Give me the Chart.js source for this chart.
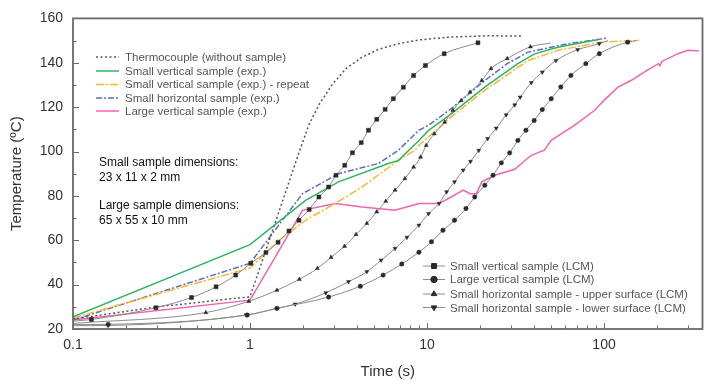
<!DOCTYPE html>
<html>
<head>
<meta charset="utf-8">
<script src="https://cdn.jsdelivr.net/npm/chart.js@4.4.1/dist/chart.umd.min.js"></script>
<style>
  body { margin: 0; background: #fff; }
  #wrap { position: relative; width: 707px; height: 381px; font-family: "Liberation Sans", Arial, sans-serif; }
  #chart { position: absolute; left: 0; top: 0; }
  .lab { position: absolute; font-size: 11.5px; color: #555; white-space: nowrap; line-height: 12px; }
  .note { position: absolute; font-size: 12px; color: #111; white-space: nowrap; line-height: 15px; }
</style>
</head>
<body>
<div id="wrap">
  <canvas id="chart" width="707" height="381"></canvas>

  <div class="lab" style="left:125px; top:51px">Thermocouple (without sample)</div>
  <div class="lab" style="left:125px; top:65px">Small vertical sample (exp.)</div>
  <div class="lab" style="left:125px; top:78px">Small vertical sample (exp.) - repeat</div>
  <div class="lab" style="left:125px; top:92px">Small horizontal sample (exp.)</div>
  <div class="lab" style="left:125px; top:105px">Large vertical sample (exp.)</div>

  <div class="note" style="left:99px; top:155px">Small sample dimensions:<br>23 x 11 x 2 mm</div>
  <div class="note" style="left:99px; top:198px">Large sample dimensions:<br>65 x 55 x 10 mm</div>

  <div class="lab" style="left:450px; top:260px">Small vertical sample (LCM)</div>
  <div class="lab" style="left:450px; top:273px">Large vertical sample (LCM)</div>
  <div class="lab" style="left:450px; top:288px">Small horizontal sample - upper surface (LCM)</div>
  <div class="lab" style="left:450px; top:302px">Small horizontal sample - lower surface (LCM)</div>
</div>

<script>
// time (s) / temperature (ºC)

const thermoTime = [0.1, 0.3, 1, 1.9, 2.15, 2.45, 2.9, 3.5, 4.3, 5.3, 6.8, 9, 13, 22, 34];
const thermoTemp = [24.5, 30, 34.5, 100, 112, 121, 130, 137.5, 142.5, 146, 148.5, 150.3, 151.5, 152.2, 152];

const smallVertTime = [0.1, 1, 2.06, 3.16, 6.05, 6.9, 8.0, 9.0, 10.2, 13.7, 21.2, 32.6, 40.5, 54.8, 84, 92];
const smallVertTemp = [25.5, 58, 78, 86.3, 94.6, 96, 101, 105, 109.5, 117, 129, 139.6, 144, 147, 149.8, 150.4];

const repeatTime = [0.1, 1, 1.46, 2.06, 3.03, 4.29, 6.9, 8.56, 9.0, 13.7, 21.2, 37.2, 54.8, 96, 158];
const repeatTemp = [25, 47.5, 60, 69, 76.6, 84, 96, 100.6, 102.8, 115.6, 127.6, 141, 145.6, 149.3, 150.1];

const smallHorTime = [0.1, 1, 1.98, 3.16, 5.32, 6.9, 9.0, 10.2, 13.7, 21.2, 28.4, 37.2, 62.7, 100, 104];
const smallHorTemp = [24, 49.6, 81, 90, 94.6, 100.6, 109.6, 111.8, 119.3, 132, 139.6, 144.8, 148.6, 150.9, 151.3];

const largeVertTime = [0.1, 1, 1.98, 3.03, 4.29, 6.6, 9.0, 11.7, 13.7, 16, 17.5, 19, 20.4, 24.1, 31.3, 38.8, 46, 50.3, 68, 88.6, 101, 120, 142, 175, 203, 207, 212, 262, 297, 343];
const largeVertTemp = [24, 33, 73.5, 76.6, 75, 73.5, 76.6, 76.6, 79.5, 82.6, 81, 81, 86.3, 89.3, 92, 98.3, 100.6, 105, 111.8, 118.6, 123.4, 129, 132, 136.6, 139.6, 138.6, 140.6, 144.1, 145.6, 145.3];

const lcmSquareTime = [0.1, 0.127, 0.294, 0.467, 0.643, 0.83, 1.01, 1.23, 1.44, 1.66, 1.89, 2.16, 2.45, 2.78, 3.06, 3.43, 3.79, 4.25, 4.67, 5.2, 5.8, 6.45, 7.35, 8.4, 9.8, 12.5, 19.4];
const lcmSquareTemp = [23.5, 24.3, 29.6, 34.2, 39, 44.3, 49.6, 54.5, 59.1, 64.2, 69, 73.9, 79.5, 84, 89.3, 93.8, 99.4, 104, 109.6, 114.5, 119, 123.8, 129, 134.3, 138.8, 144.1, 149];

const lcmCircleTime = [0.1, 0.158, 0.965, 1.42, 2.78, 4.2, 5.65, 7.2, 9.0, 10.6, 12.3, 14.3, 16.6, 18.6, 21.2, 23.6, 26.3, 29.3, 32.6, 36.2, 40.3, 44.8, 50.3, 57, 65, 78.9, 94, 136, 154];
const lcmCircleTemp = [22, 22.1, 26.3, 29.3, 34.4, 39.3, 44.3, 49.3, 54.6, 59.3, 64.5, 69, 74.3, 79.5, 84.8, 89.3, 94.9, 99.4, 105, 109.6, 114, 118.9, 123.8, 129.1, 134.3, 139.6, 144.1, 149.3, 150];

const lcmUpTime = [0.1, 0.563, 0.985, 1.42, 1.9, 2.4, 2.87, 3.42, 3.97, 4.57, 5.2, 5.85, 6.6, 7.5, 8.4, 9.2, 9.9, 11.0, 12.6, 14, 15.6, 17.5, 20.4, 23, 28.4, 38.4, 50];
const lcmUpTemp = [22.5, 27.4, 32.5, 37.5, 42.4, 47.3, 52.3, 57.3, 62.6, 67.6, 72.8, 77.6, 82.6, 87.8, 93, 97.5, 102.8, 108, 113.3, 118.6, 123, 126.8, 132, 137.4, 141.9, 147.2, 148.9];

const lcmDownTime = [0.1, 0.158, 0.95, 1.42, 1.8, 2.68, 3.6, 4.57, 5.5, 6.6, 7.7, 9.0, 10.2, 11.7, 12.9, 14.3, 16.0, 17.6, 19.6, 22, 24.6, 28, 31.3, 33.6, 38.8, 44.8, 53.5, 71, 94, 105];
const lcmDownTemp = [21.5, 21.6, 26.3, 29.3, 31.2, 36.3, 41.3, 45.8, 51, 56.3, 61.3, 66.8, 72, 76.6, 81.8, 86.3, 91.6, 95.5, 100.5, 105.8, 110.5, 116.5, 121, 124.5, 131, 135.8, 141, 145.9, 148.6, 150];

const xTickValues = [0.1, 1, 10, 100];

function pts(ts, vs) {
    return ts.map((t, i) => ({ x: t, y: vs[i] }));
}

// no marker on the first point, optionally none on the last one either
function marks(n, r, skipLast) {
    return Array.from({ length: n }, (_, i) => (i === 0 || (skipLast && i === n - 1)) ? 0 : r);
}

const GREEN = '#2fb463';
const ORANGE = '#ffb52e';
const BLUE = '#5b6ec6';
const PINK = '#f064b4';
const GRAY = '#8c8c8c';
const MARK = '#2a2a2a';

function expSet(label, ts, vs, color, dash) {
    return {
        label: label,
        data: pts(ts, vs),
        borderColor: color,
        borderWidth: 1.5,
        borderDash: dash,
        pointRadius: 0,
        tension: 0,
        fill: false
    };
}

function lcmSet(label, ts, vs, style, r, skipLast, rot) {
    return {
        label: label,
        data: pts(ts, vs),
        borderColor: GRAY,
        borderWidth: 1,
        cubicInterpolationMode: 'monotone',
        pointStyle: style,
        pointRotation: rot || 0,
        pointRadius: marks(ts.length, r, skipLast),
        pointBackgroundColor: MARK,
        pointBorderColor: MARK,
        pointBorderWidth: 0.5,
        fill: false
    };
}

const datasets = [
    lcmSet('Small vertical sample (LCM)', lcmSquareTime, lcmSquareTemp, 'rect', 2.8, false),
    lcmSet('Large vertical sample (LCM)', lcmCircleTime, lcmCircleTemp, 'circle', 2.2, true),
    lcmSet('Small horizontal sample - upper surface (LCM)', lcmUpTime, lcmUpTemp, 'triangle', 2.3, true),
    lcmSet('Small horizontal sample - lower surface (LCM)', lcmDownTime, lcmDownTemp, 'triangle', 2.3, true, 180),
    expSet('Thermocouple (without sample)', thermoTime, thermoTemp, '#555', [2, 2.5]),
    expSet('Small vertical sample (exp.)', smallVertTime, smallVertTemp, GREEN, []),
    expSet('Small vertical sample (exp.) - repeat', repeatTime, repeatTemp, ORANGE, [8, 2, 2, 2]),
    expSet('Small horizontal sample (exp.)', smallHorTime, smallHorTemp, BLUE, [6, 2, 2, 2]),
    expSet('Large vertical sample (exp.)', largeVertTime, largeVertTemp, PINK, [])
];

// frame, inward ticks and legend line samples
const decorPlugin = {
    id: 'decor',
    afterDraw(chart) {
        const ctx = chart.ctx;
        const a = chart.chartArea;
        const xs = chart.scales.x;
        const ys = chart.scales.y;
        ctx.save();
        ctx.strokeStyle = '#6a6a6a';
        ctx.lineWidth = 1;

        // x ticks
        ctx.beginPath();
        for (let d = 0.1; d < 400; d *= 10) {
            for (let k = 1; k <= 9; k++) {
                const v = d * k;
                if (v > xs.max) break;
                const px = Math.round(xs.getPixelForValue(v)) + 0.5;
                const len = k === 1 ? 6 : 3.5;
                ctx.moveTo(px, a.bottom);
                ctx.lineTo(px, a.bottom - len);
            }
        }
        // y ticks
        for (let v = 20; v <= 160; v += 10) {
            const py = Math.round(ys.getPixelForValue(v)) + 0.5;
            const len = v % 20 === 0 ? 6 : 3.5;
            ctx.moveTo(a.left, py);
            ctx.lineTo(a.left + len, py);
        }
        ctx.stroke();

        ctx.lineWidth = 1.8;
        ctx.strokeRect(a.left, a.top, a.right - a.left, a.bottom - a.top);

        // legend samples, experiment lines
        const expRows = [57, 71, 84.5, 98, 111];
        chart.data.datasets.slice(4).forEach((ds, i) => {
            ctx.beginPath();
            ctx.strokeStyle = ds.borderColor;
            ctx.lineWidth = 1.5;
            ctx.setLineDash(ds.borderDash);
            ctx.moveTo(96, expRows[i]);
            ctx.lineTo(119, expRows[i]);
            ctx.stroke();
        });
        ctx.setLineDash([]);

        // legend samples, LCM lines with markers
        const lcmRows = [266, 279.5, 294, 307.5];
        chart.data.datasets.slice(0, 4).forEach((ds, i) => {
            const y = lcmRows[i];
            ctx.beginPath();
            ctx.strokeStyle = GRAY;
            ctx.lineWidth = 1;
            ctx.moveTo(423, y);
            ctx.lineTo(445, y);
            ctx.stroke();
            ctx.fillStyle = MARK;
            ctx.strokeStyle = MARK;
            Chart.helpers.drawPoint(ctx, {
                pointStyle: ds.pointStyle,
                rotation: ds.pointRotation,
                radius: i === 0 ? 3.5 : 3.2,
                borderWidth: 0.5
            }, 434, y);
        });
        ctx.restore();
    }
};

new Chart(document.getElementById('chart'), {
    type: 'line',
    data: { datasets: datasets },
    plugins: [decorPlugin],
    options: {
        responsive: false,
        animation: false,
        parsing: false,
        layout: { padding: { top: 18, right: 2, left: 0, bottom: 0 } },
        plugins: {
            legend: { display: false },
            tooltip: { enabled: false }
        },
        scales: {
            x: {
                type: 'logarithmic',
                min: 0.1,
                max: 360,
                afterBuildTicks: s => { s.ticks = xTickValues.map(v => ({ value: v })); },
                afterFit: s => { s.height = 52; },
                grid: { display: false, drawTicks: false },
                border: { display: false },
                ticks: {
                    autoSkip: false,
                    maxRotation: 0,
                    padding: 8,
                    color: '#333',
                    font: { family: 'Liberation Sans', size: 14 },
                    callback: v => String(v)
                },
                title: {
                    display: true,
                    text: 'Time (s)',
                    color: '#333',
                    font: { family: 'Liberation Sans', size: 15 },
                    padding: { top: 2, bottom: 0 }
                }
            },
            y: {
                min: 20,
                max: 160,
                afterFit: s => { s.width = 73; },
                grid: { display: false, drawTicks: false },
                border: { display: false },
                ticks: {
                    stepSize: 20,
                    padding: 10,
                    color: '#333',
                    font: { family: 'Liberation Sans', size: 14 }
                },
                title: {
                    display: true,
                    text: 'Temperature (ºC)',
                    color: '#333',
                    font: { family: 'Liberation Sans', size: 15 },
                    padding: { top: 8, bottom: 0 }
                }
            }
        }
    }
});
</script>
</body>
</html>
